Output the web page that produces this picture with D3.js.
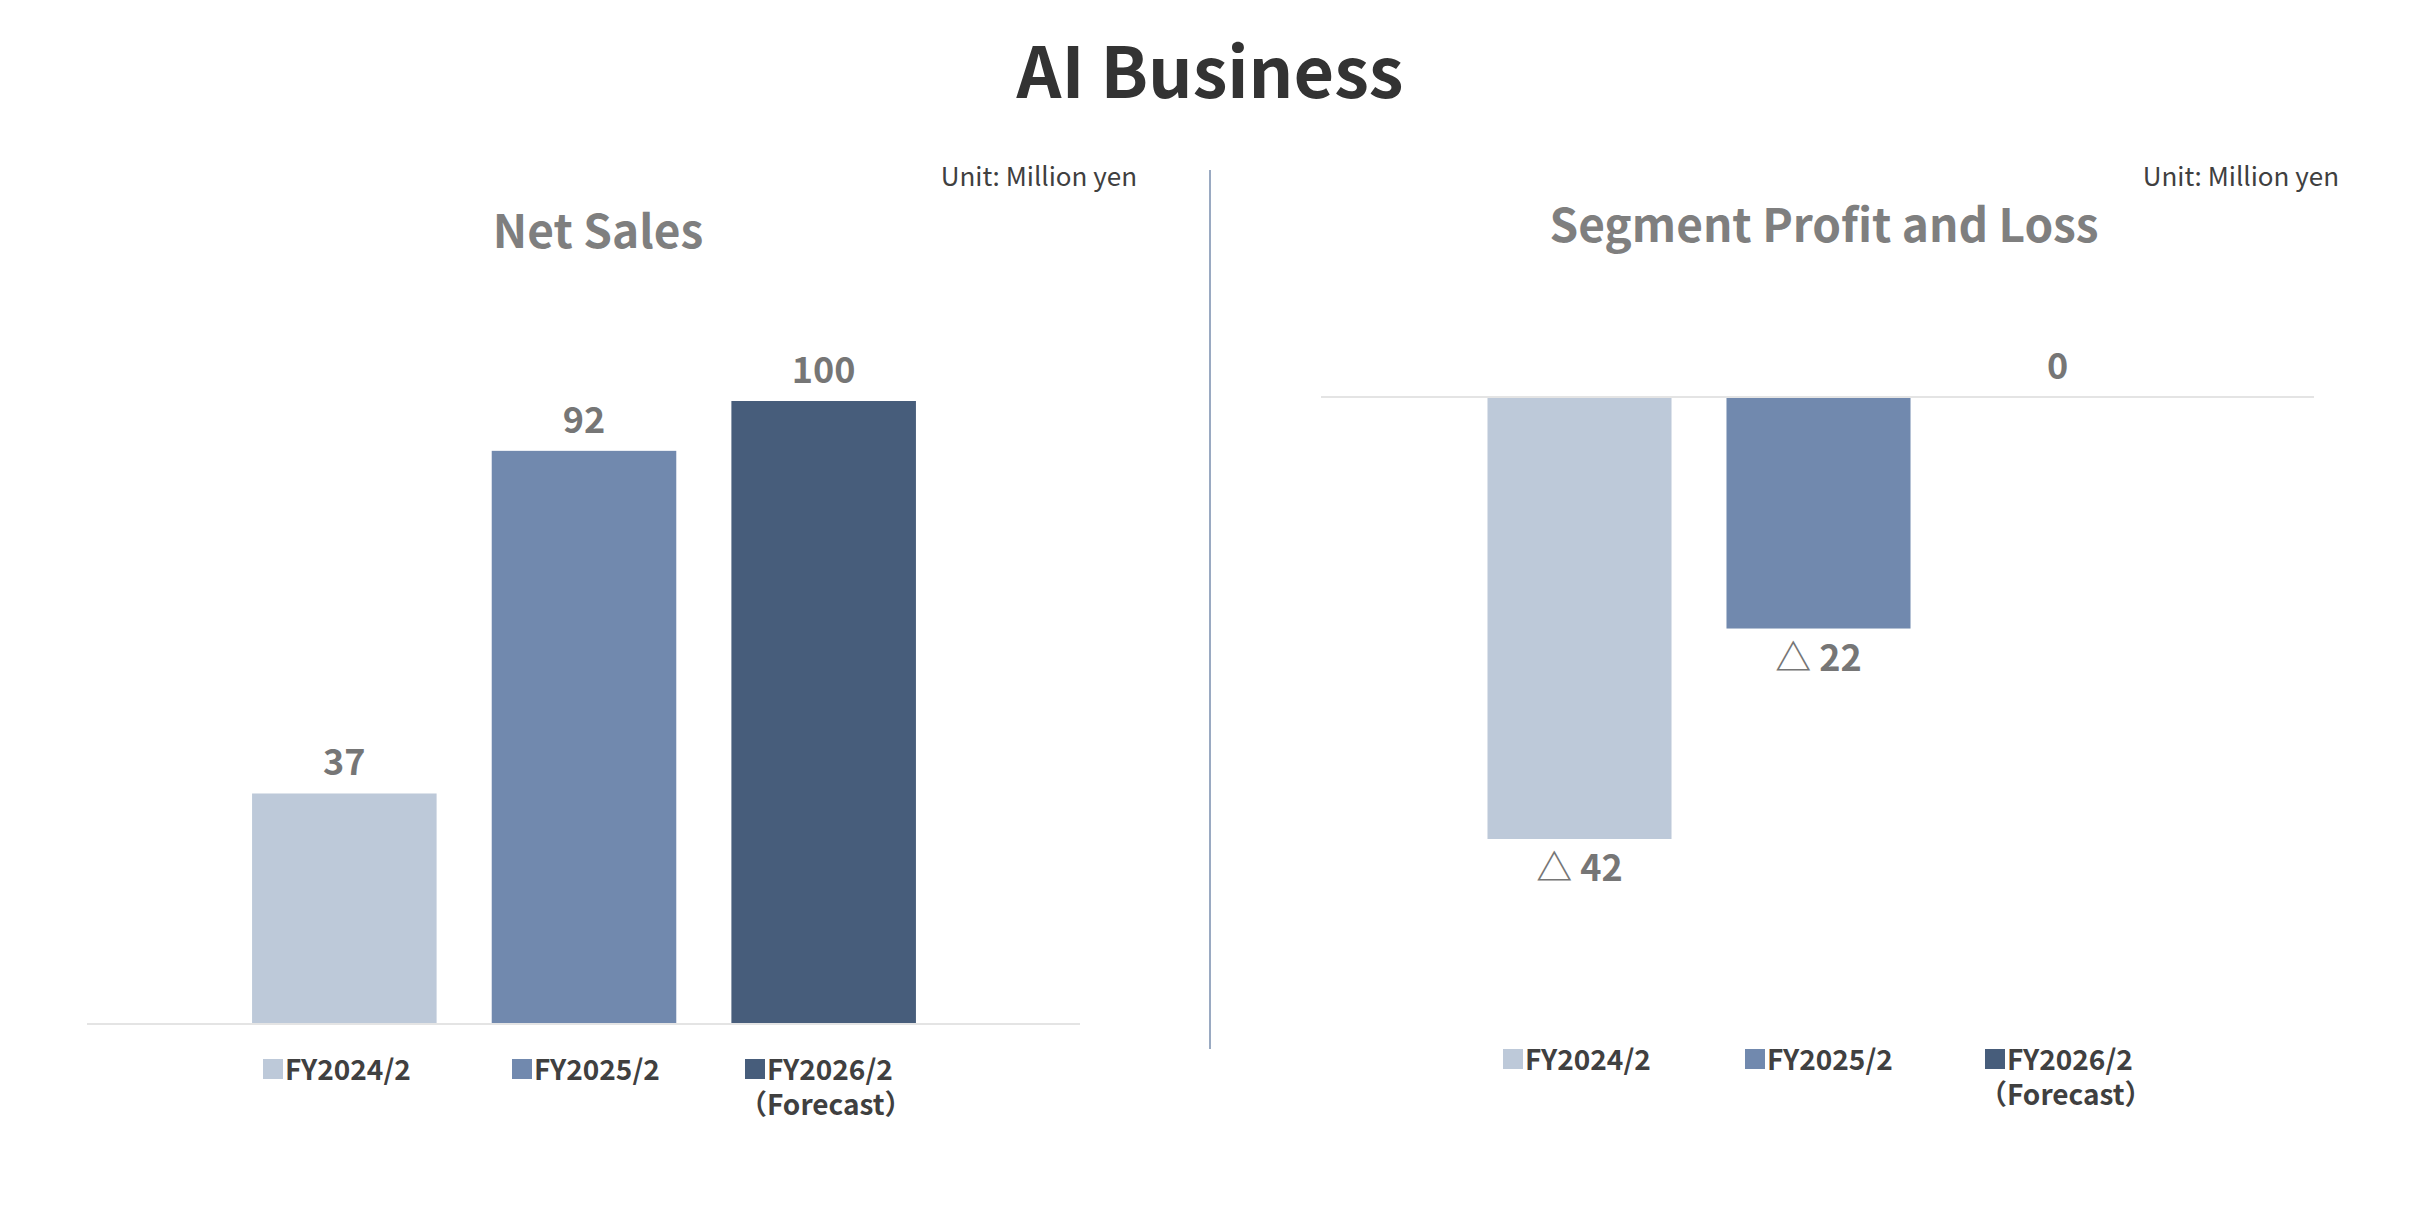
<!DOCTYPE html>
<html><head><meta charset="utf-8">
<script src="https://cdn.jsdelivr.net/npm/d3@7"></script>
<style>body{margin:0;background:#fff}svg{display:block;font-family:"Noto Sans CJK JP","Noto Sans",sans-serif}</style>
</head><body><svg id="c" width="2419" height="1210"></svg>
<script>
const categories = ["FY2024/2", "FY2025/2", "FY2026/2"];
const legendSub = ["", "", "（Forecast）"];
const netSales = [37, 92, 100];
const segmentProfit = [-42, -22, 0];
const colors = ["#BDC9D9", "#7189AE", "#475D7B"];

const svg = d3.select("#c");
svg.append("text").attr("x",1210).attr("y",98).attr("text-anchor","middle")
  .attr("font-size",70).attr("font-weight",700).attr("fill","#333").text("AI Business");
svg.append("line").attr("x1",1210).attr("x2",1210).attr("y1",170).attr("y2",1049)
  .attr("stroke","#9aaac2").attr("stroke-width",2);

function label(v){ return v<0 ? "△ "+Math.abs(v) : String(v); }

function panel(o){
  const g = svg.append("g");
  g.append("text").attr("x",o.unitX).attr("y",186).attr("text-anchor","end")
    .attr("font-size",26).attr("fill","#404040").text("Unit: Million yen");
  g.append("text").attr("x",o.titleX).attr("y",o.titleY).attr("text-anchor","middle")
    .attr("font-size",46).attr("font-weight",700).attr("fill","#7f7f7f").text(o.title);
  const x = d3.scaleBand().domain(categories).range(o.br).paddingInner(0.23).paddingOuter(0.115);
  const y = d3.scaleLinear().domain(o.dom).range(o.yr);
  g.selectAll("rect.bar").data(o.values).join("rect")
    .attr("x",(d,i)=>x(categories[i])).attr("width",x.bandwidth())
    .attr("y",d=>Math.min(y(d),y(0))).attr("height",d=>Math.abs(y(d)-y(0)))
    .attr("fill",(d,i)=>colors[i]);
  g.append("line").attr("x1",o.xr[0]).attr("x2",o.xr[1]).attr("y1",y(0)).attr("y2",y(0))
    .attr("stroke","#e4e4e4").attr("stroke-width",2);
  g.selectAll("text.val").data(o.values).join("text")
    .attr("x",(d,i)=>x(categories[i])+x.bandwidth()/2)
    .attr("y",d=> d<0 ? y(d)+42 : y(d)-18)
    .attr("text-anchor","middle").attr("font-size",36).attr("font-weight",700)
    .attr("fill","#767676").text(label);
  const lg = g.selectAll("g.lg").data(categories).join("g")
    .attr("transform",(d,i)=>`translate(${o.legX[i]},${o.legY})`);
  lg.append("rect").attr("x",0).attr("y",-10).attr("width",20).attr("height",20).attr("fill",(d,i)=>colors[i]);
  lg.append("text").attr("x",22).attr("y",11).attr("font-size",28).attr("font-weight",700)
    .attr("fill","#404040").text(d=>d);
  lg.append("text").attr("x",-6).attr("y",46).attr("font-size",28).attr("font-weight",700)
    .attr("fill","#404040").text((d,i)=>legendSub[i]);
}

panel({title:"Net Sales", titleX:598, titleY:248, unitX:1137, xr:[87,1080], br:[224.5,943.5],
  values:netSales, dom:[0,100], yr:[1024,401], legX:[263,512,745], legY:1069});
panel({title:"Segment Profit and Loss", titleX:1824, titleY:242, unitX:2339, xr:[1321,2314], br:[1460,2177],
  values:segmentProfit, dom:[-42,0], yr:[839,397], legX:[1503,1745,1985], legY:1059});
</script></body></html>
